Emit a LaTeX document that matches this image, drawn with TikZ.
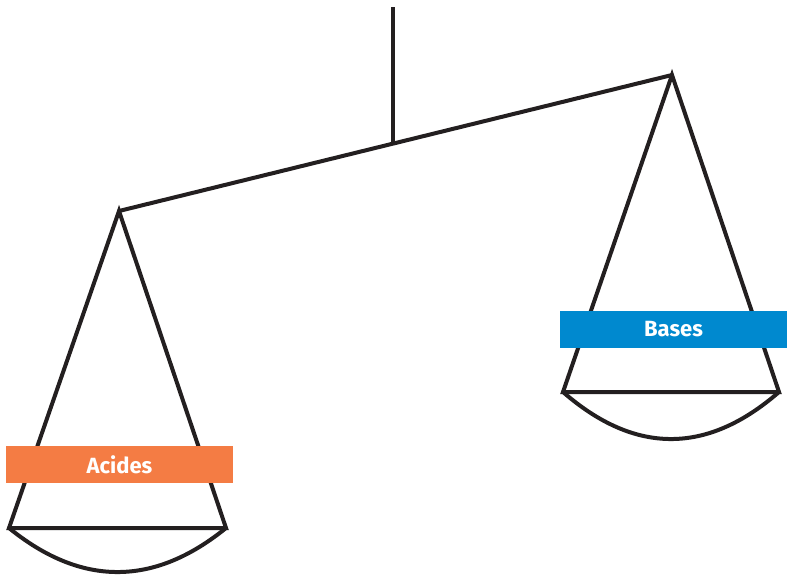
\documentclass[tikz,border=0pt]{standalone}
\usepackage{fontspec}
\setmainfont{Fira Sans}
\definecolor{acidorange}{RGB}{244,124,68}
\definecolor{baseblue}{RGB}{0,137,207}
\definecolor{ink}{RGB}{35,31,32}
\begin{document}
\begin{tikzpicture}[x=1pt,y=-1pt,
  bar/.style={draw=ink,line width=4pt,line join=miter,line cap=butt},
  tag/.style={minimum width=227pt,minimum height=37pt,inner sep=0pt,text=white,font=\fontsize{22}{24}\selectfont\bfseries}]
\useasboundingbox (0,0) rectangle (787,574);
% coordinates
\coordinate (top) at (393,7);
\coordinate (pivot) at (393,143.5);
\coordinate (la) at (119,211);
\coordinate (ra) at (672,75);
\coordinate (lbl) at (9,528);
\coordinate (lbr) at (226,528);
\coordinate (rbl) at (563,392);
\coordinate (rbr) at (779,392);
% post and beam
\draw[bar] (top) -- (pivot);
\draw[bar] (la) -- (ra);
% left pan
\draw[bar] (la) -- (lbl) -- (lbr) -- cycle;
\draw[bar] (lbl) .. controls (81.3,586.7) and (153.7,586.7) .. (lbr);
% right pan
\draw[bar] (ra) -- (rbl) -- (rbr) -- cycle;
\draw[bar] (rbl) .. controls (635,454.7) and (707,454.7) .. (rbr);
% labels
\node[tag,fill=acidorange] (acides) at (119.5,464.5) {Acides};
\node[tag,fill=baseblue] (bases) at (673.5,329) {Bases};
\end{tikzpicture}
\end{document}
